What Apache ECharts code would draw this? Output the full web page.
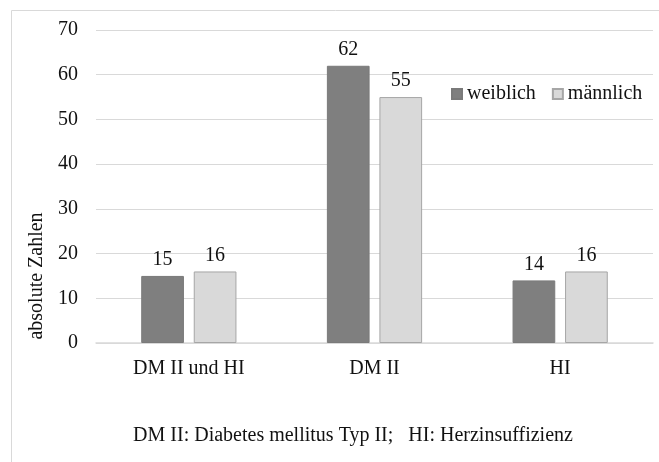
<!DOCTYPE html>
<html>
<head>
<meta charset="utf-8">
<script src="https://cdn.jsdelivr.net/npm/echarts@6/dist/echarts.min.js"></script>
<style>
  html, body { margin: 0; padding: 0; background: #fff; }
  #chart { width: 659px; height: 462px; }
</style>
</head>
<body>
<div id="chart"></div>
<script>
// Daten aus dem Diagramm
const categories = ['DM II und HI', 'DM II', 'HI']
const weiblich = [15, 62, 14]
const maennlich = [16, 55, 16]
const yTicks = [0, 10, 20, 30, 40, 50, 60, 70]

const font = '"Liberation Serif", "Times New Roman", serif'
const txt = '#111'
const colors = ['#7f7f7f', '#d9d9d9']

const chart = echarts.init(document.getElementById('chart'))

chart.setOption({
  animation: false,
  color: colors,
  textStyle: { fontFamily: font, color: txt },
  grid: { left: 96, right: 6, top: 30, bottom: 119 },
  legend: {
    data: ['weiblich', 'männlich'],
    icon: 'rect',
    left: 446,
    top: 79,
    itemWidth: 10,
    itemHeight: 10,
    itemGap: 16,
    textStyle: { fontFamily: font, fontSize: 20, color: txt }
  },
  xAxis: {
    type: 'category',
    data: categories,
    axisTick: { show: false },
    axisLine: { lineStyle: { color: '#d9d9d9', width: 1.5 } },
    axisLabel: { fontFamily: font, fontSize: 20, color: txt, margin: 16 }
  },
  yAxis: {
    type: 'value',
    min: yTicks[0],
    max: yTicks[yTicks.length - 1],
    interval: 10,
    axisLine: { show: false },
    axisTick: { show: false },
    splitLine: { lineStyle: { color: '#d9d9d9', width: 1.2 } },
    axisLabel: { fontFamily: font, fontSize: 20, color: txt, margin: 18 }
  },
  graphic: [
    {
      type: 'rect',
      shape: { x: 11.5, y: 10.5, width: 700, height: 500 },
      style: { fill: 'none', stroke: '#d9d9d9', lineWidth: 1 },
      silent: true,
      z: -1
    },
    {
      type: 'text',
      x: 37,
      y: 276,
      rotation: Math.PI / 2,
      style: {
        text: 'absolute Zahlen',
        fontFamily: font,
        fontSize: 20,
        fill: txt,
        align: 'center',
        verticalAlign: 'middle'
      }
    },
    {
      type: 'text',
      x: 353,
      y: 436,
      style: {
        text: 'DM II: Diabetes mellitus Typ II;   HI: Herzinsuffizienz',
        fontFamily: font,
        fontSize: 20,
        fill: txt,
        align: 'center',
        verticalAlign: 'middle'
      }
    }
  ],
  series: [
    {
      name: 'weiblich',
      type: 'bar',
      data: weiblich,
      barWidth: '23%',
      barGap: '23%',
      itemStyle: { color: colors[0], borderColor: '#7a7a7a', borderWidth: 1 },
      label: { show: true, position: 'top', distance: 6, fontFamily: font, fontSize: 20, color: txt }
    },
    {
      name: 'männlich',
      type: 'bar',
      data: maennlich,
      barWidth: '23%',
      itemStyle: { color: colors[1], borderColor: '#a6a6a6', borderWidth: 1 },
      label: { show: true, position: 'top', distance: 6, fontFamily: font, fontSize: 20, color: txt }
    }
  ]
})
</script>
</body>
</html>
